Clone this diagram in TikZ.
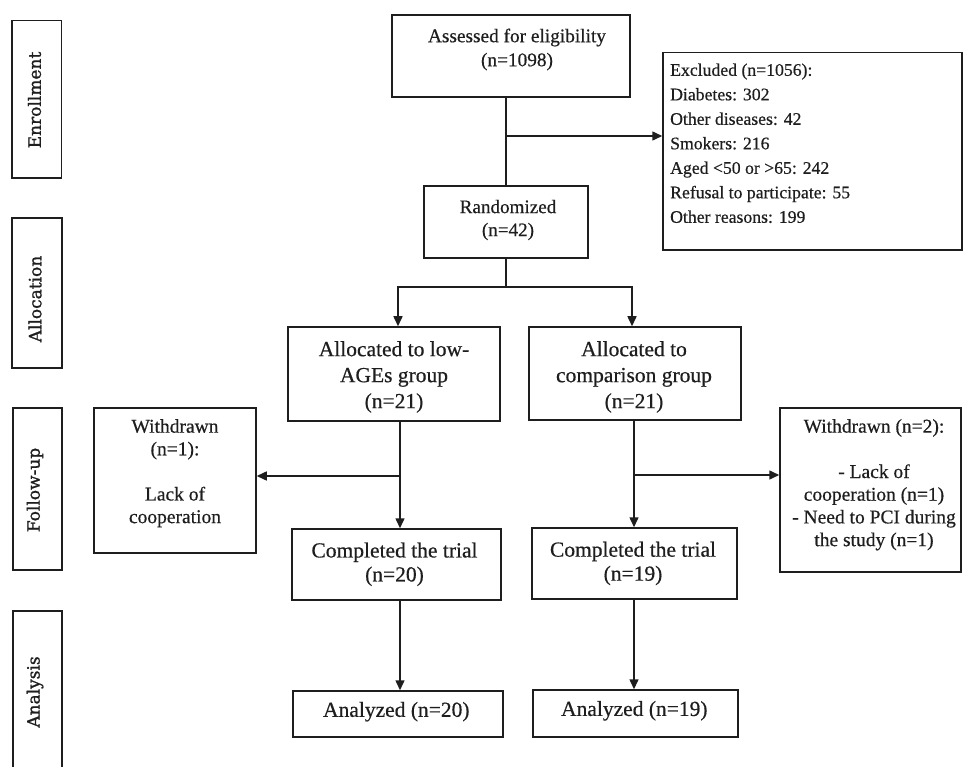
\documentclass[tikz,border=0pt]{standalone}
\usepackage{fontspec}
\setmainfont[FakeBold=0.5]{Liberation Serif}
\newfontfamily\sidefont[FakeBold=1.2]{DejaVu Serif}
\usetikzlibrary{arrows.meta}
\definecolor{ink}{HTML}{1E1E1E}
\tikzset{
  bx/.style 2 args={draw=ink, line width=1.5pt, inner sep=0pt, minimum width=#1, minimum height=#2},
  txt/.style={align=center, inner sep=0pt, text=ink},
  sidetxt/.style={inner sep=0pt, text=ink, rotate=90, font=\sidefont\fontsize{17pt}{20pt}\selectfont},
  ln/.style={draw=ink, line width=1.5pt},
  arr/.style={draw=ink, line width=1.5pt, -{Triangle[length=10pt,width=9pt]}},
}
\begin{document}
\begin{tikzpicture}[x=1pt,y=-1pt]
\useasboundingbox[fill=white] (0,0) rectangle (964,767);

% phase labels on the left
\node[bx={49.5pt}{157.5pt}] (enrB) at (36.75,99.25) {};
\node[sidetxt] (enrT) at (34.5,100) {Enrollment};
\node[bx={50pt}{150pt}] (allB) at (37,293) {};
\node[sidetxt] (allT) at (35,299) {Allocation};
\node[bx={49pt}{162pt}] (folB) at (37.5,489) {};
\node[sidetxt] (folT) at (35,490) {Follow-up};
\node[bx={49pt}{189pt}] (anaB) at (37.5,705.5) {};
\node[sidetxt] (anaT) at (35,692) {Analysis};

% boxes
\node[bx={238pt}{82pt}] (assess) at (511,56) {};
\node[txt, font=\fontsize{19.3pt}{24pt}\selectfont] (assessT) at (517,49.5) {Assessed for eligibility\\(n=1098)};

\node[bx={299pt}{197.5pt}] (excl) at (812.5,151.25) {};
\node[txt, align=left, anchor=west, font=\fontsize{17.7pt}{24.5pt}\selectfont] (exclT) at (670,143.3)
  {Excluded (n=1056):\\Diabetes: 302\\Other diseases: 42\\Smokers: 216\\Aged <50 or >65: 242\\Refusal to participate: 55\\Other reasons: 199};

\node[bx={164pt}{72pt}] (rand) at (506,222) {};
\node[txt, font=\fontsize{19.1pt}{23pt}\selectfont] (randT) at (508,220) {Randomized\\(n=42)};

\node[bx={212pt}{94pt}] (low) at (394,374) {};
\node[txt, font=\fontsize{21.5pt}{26pt}\selectfont] (lowT) at (394,377) {Allocated to low-\\AGEs group\\(n=21)};

\node[bx={212pt}{93pt}] (comp) at (635,373.5) {};
\node[txt, font=\fontsize{21.5pt}{26pt}\selectfont] (compT) at (634,377) {Allocated to\\comparison group\\(n=21)};

\node[bx={162pt}{145pt}] (wl) at (175,480.5) {};
\node[txt, font=\fontsize{19.5pt}{22.6pt}\selectfont] (wlT) at (175,473.2) {Withdrawn\\(n=1):\\[22.6pt]Lack of\\cooperation};

\node[bx={181pt}{164pt}] (wr) at (870.5,490) {};
\node[txt, font=\fontsize{19.5pt}{22.7pt}\selectfont] (wrT) at (874,484.7) {Withdrawn (n=2):\\[22.7pt]- Lack of\\cooperation (n=1)\\- Need to PCI during\\the study (n=1)};

\node[bx={209pt}{71pt}] (cl) at (396.5,564.5) {};
\node[txt, font=\fontsize{21.5pt}{24pt}\selectfont] (clT) at (394.5,564.3) {Completed the trial\\(n=20)};

\node[bx={205pt}{71pt}] (cr) at (634.5,563.5) {};
\node[txt, font=\fontsize{21.5pt}{24pt}\selectfont] (crT) at (633,563.5) {Completed the trial\\(n=19)};

\node[bx={210pt}{46pt}] (al) at (398,714) {};
\node[txt, font=\fontsize{21.5pt}{24pt}\selectfont] (alT) at (396.3,711.7) {Analyzed (n=20)};

\node[bx={205pt}{47pt}] (ar) at (635.5,713.5) {};
\node[txt, font=\fontsize{21.5pt}{24pt}\selectfont] (arT) at (634.3,710.8) {Analyzed (n=19)};

% junction coordinates
\coordinate (j1) at (506,136);
\coordinate (j2) at (506,287);
\coordinate (jL) at (398,287);
\coordinate (jR) at (632,287);
\coordinate (xl) at (400,476);
\coordinate (xr) at (634,475);

% connectors
\draw[ln] (rand.north |- assess.south) -- (rand.north);
\draw[arr] (j1) -- (excl.west |- j1);
\draw[ln] (rand.south) -- (j2);
\draw[arr] (j2) -- (jL) -- (jL |- low.north);
\draw[arr] (j2) -- (jR) -- (jR |- comp.north);

\draw[arr] (xl |- low.south) -- (xl |- cl.north);
\draw[arr] (xl) -- (wl.east |- xl);
\draw[arr] (xl |- cl.south) -- (xl |- al.north);

\draw[arr] (xr |- comp.south) -- (xr |- cr.north);
\draw[arr] (xr) -- (wr.west |- xr);
\draw[arr] (xr |- cr.south) -- (xr |- ar.north);
\end{tikzpicture}
\end{document}
